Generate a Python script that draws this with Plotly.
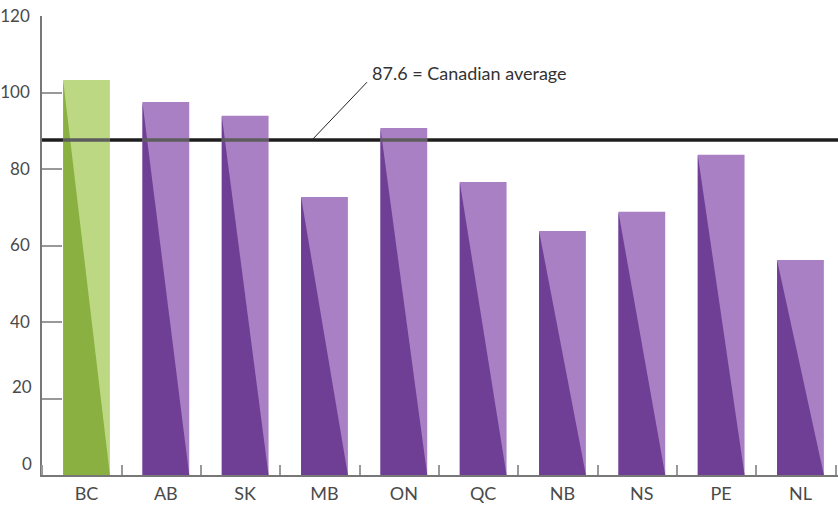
import plotly.graph_objects as go

provinces = ["BC", "AB", "SK", "MB", "ON", "QC", "NB", "NS", "PE", "NL"]
values = [103.3, 97.5, 93.9, 72.7, 90.7, 76.6, 63.8, 68.8, 83.7, 56.2]
canadian_average = 87.6
y_ticks = [0, 20, 40, 60, 80, 100, 120]

light_colors = ["#bdd883"] + ["#aa80c5"] * 9
dark_colors = ["#89b040"] + ["#6f3f95"] * 9

W = 0.59
FONT = "Lato"
TXT = "#4a4a4a"

fig = go.Figure()

# Average line, drawn below the bars
fig.add_shape(type="line", xref="paper", yref="y", x0=0, x1=1,
              y0=canadian_average, y1=canadian_average,
              line=dict(color="#1e1e1e", width=3.5), layer="below")

xs = list(range(len(provinces)))
fig.add_trace(go.Bar(x=xs, y=values, width=W, marker=dict(color=light_colors, line=dict(width=0)),
                     hoverinfo="skip", showlegend=False))

for i, v in enumerate(values):
    fig.add_trace(go.Scatter(
        x=[i - W / 2, i - W / 2, i + W / 2, i - W / 2],
        y=[v, 0, 0, v], mode="lines", fill="toself",
        fillcolor=dark_colors[i], line=dict(width=0, color=dark_colors[i]),
        hoverinfo="skip", showlegend=False))

# average line seen through the bars (grey segments)
seg_x, seg_y = [], []
for i, v in enumerate(values):
    if v > canadian_average:
        seg_x += [i - W / 2, i + W / 2, None]
        seg_y += [canadian_average, canadian_average, None]
fig.add_trace(go.Scatter(x=seg_x, y=seg_y, mode="lines",
                         line=dict(color="#5c5c5c", width=3.5),
                         hoverinfo="skip", showlegend=False))

# leader line and label
fig.add_shape(type="line", xref="x", yref="y", x0=2.843, y0=canadian_average,
              x1=3.536, y1=102.7, line=dict(color="#222222", width=1))
fig.add_annotation(x=3.574, y=105.1, xref="x", yref="y", xanchor="left", yanchor="middle",
                   text=f"{canadian_average} = Canadian average", showarrow=False,
                   font=dict(family=FONT, size=18, color="#333333"))

# lower y labels sit slightly above their ticks
for t in [0, 20]:
    fig.add_annotation(x=0, xref="paper", y=t, yref="y", xanchor="right", yanchor="middle",
                       xshift=-8, yshift=12, text=str(t), showarrow=False,
                       font=dict(family=FONT, size=17, color=TXT))

fig.update_layout(
    width=838, height=506,
    margin=dict(l=42, r=0, t=16, b=31, autoexpand=False),
    plot_bgcolor="white", paper_bgcolor="white",
    font=dict(family=FONT, size=18, color=TXT),
    xaxis=dict(range=[-0.561, 9.473], tickvals=xs, ticktext=provinces, ticks="",
               automargin=False, ticklabelstandoff=2,
               showline=True, linecolor="#777777", linewidth=1.5, showgrid=False,
               zeroline=False, tickfont=dict(family=FONT, size=18, color=TXT),
               minor=dict(tick0=0.445, dtick=1, ticks="inside", ticklen=10,
                          tickcolor="#999999", tickwidth=1.5, showgrid=False)),
    yaxis=dict(range=[0, 120], tickvals=y_ticks,
               ticktext=["" if t in (0, 20) else str(t) for t in y_ticks],
               automargin=False, ticklabelstandoff=7,
               ticks="inside", ticklen=20, tickcolor="#999999", tickwidth=1.5,
               showline=True, linecolor="#777777", linewidth=1.5, showgrid=False,
               zeroline=False, tickfont=dict(family=FONT, size=17, color=TXT)),
)

fig.write_html("out.html", config={"displayModeBar": False},
               post_script="document.body.style.margin='0';document.body.style.padding='0';")
